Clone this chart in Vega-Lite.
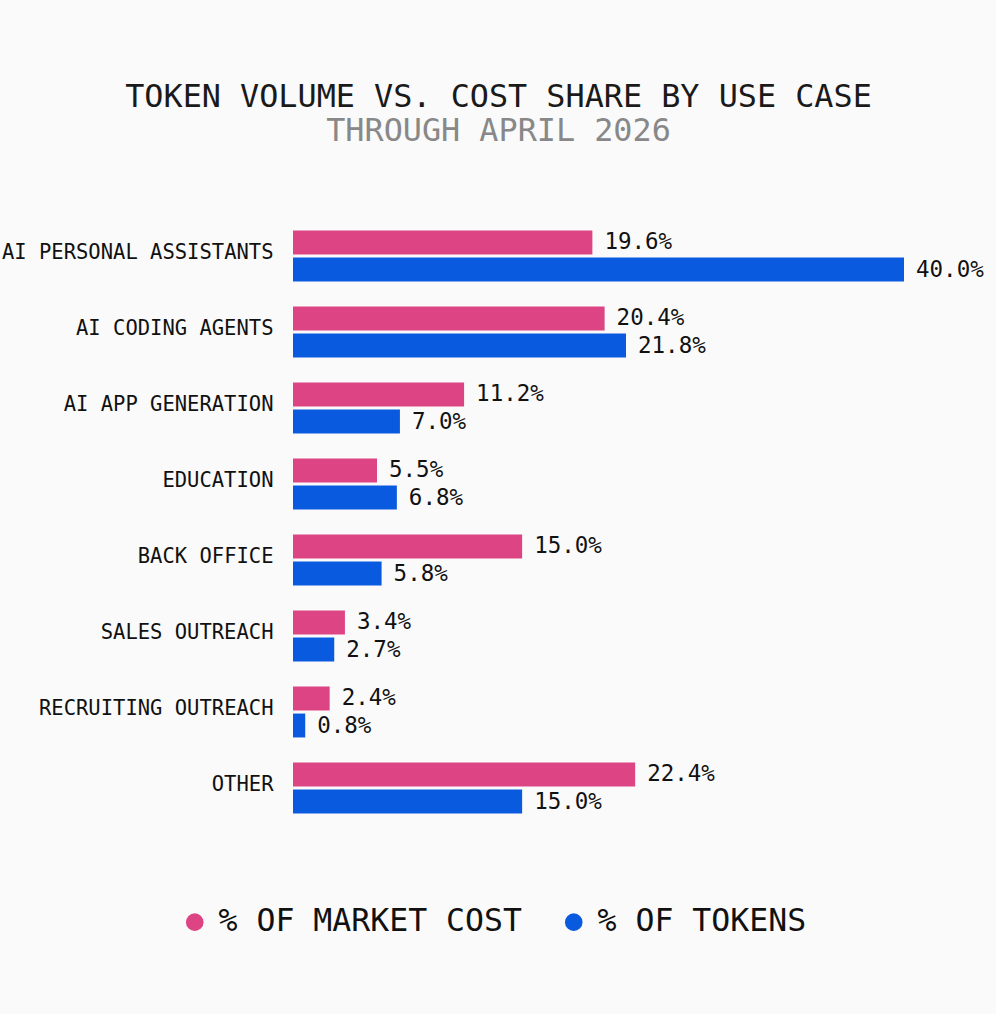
{
  "$schema": "https://vega.github.io/schema/vega-lite/v6.json",
  "autosize": {"type": "none"},
  "width": 611,
  "height": 608,
  "padding": {"left": 293, "top": 218, "right": 92, "bottom": 188},
  "background": "#fafafa",
  "title": {
    "text": "TOKEN VOLUME VS. COST SHARE BY USE CASE",
    "subtitle": "THROUGH APRIL 2026",
    "anchor": "middle",
    "dx": -100,
    "offset": 70,
    "font": "DejaVu Sans Mono",
    "fontSize": 31.8,
    "fontWeight": "normal",
    "color": "#1a1a1a",
    "subtitleFont": "DejaVu Sans Mono",
    "subtitleFontSize": 31.8,
    "subtitleColor": "#888888",
    "subtitlePadding": 2
  },
  "data": {
    "values": [
      {"use_case": "AI PERSONAL ASSISTANTS", "series": "% OF MARKET COST", "share": 0.196},
      {"use_case": "AI PERSONAL ASSISTANTS", "series": "% OF TOKENS", "share": 0.400},
      {"use_case": "AI CODING AGENTS", "series": "% OF MARKET COST", "share": 0.204},
      {"use_case": "AI CODING AGENTS", "series": "% OF TOKENS", "share": 0.218},
      {"use_case": "AI APP GENERATION", "series": "% OF MARKET COST", "share": 0.112},
      {"use_case": "AI APP GENERATION", "series": "% OF TOKENS", "share": 0.070},
      {"use_case": "EDUCATION", "series": "% OF MARKET COST", "share": 0.055},
      {"use_case": "EDUCATION", "series": "% OF TOKENS", "share": 0.068},
      {"use_case": "BACK OFFICE", "series": "% OF MARKET COST", "share": 0.150},
      {"use_case": "BACK OFFICE", "series": "% OF TOKENS", "share": 0.058},
      {"use_case": "SALES OUTREACH", "series": "% OF MARKET COST", "share": 0.034},
      {"use_case": "SALES OUTREACH", "series": "% OF TOKENS", "share": 0.027},
      {"use_case": "RECRUITING OUTREACH", "series": "% OF MARKET COST", "share": 0.024},
      {"use_case": "RECRUITING OUTREACH", "series": "% OF TOKENS", "share": 0.008},
      {"use_case": "OTHER", "series": "% OF MARKET COST", "share": 0.224},
      {"use_case": "OTHER", "series": "% OF TOKENS", "share": 0.150}
    ]
  },
  "encoding": {
    "y": {
      "field": "use_case",
      "type": "nominal",
      "sort": null,
      "scale": {"paddingInner": 0.33, "paddingOuter": 0.165},
      "axis": {
        "title": null,
        "domain": false,
        "ticks": false,
        "labelPadding": 20,
        "labelOffset": -3,
        "labelFont": "DejaVu Sans Mono",
        "labelFontSize": 20.5,
        "labelColor": "#111111",
        "labelLimit": 400
      }
    },
    "yOffset": {
      "field": "series",
      "type": "nominal",
      "sort": ["% OF MARKET COST", "% OF TOKENS"],
      "scale": {"paddingInner": 0.115}
    },
    "x": {
      "field": "share",
      "type": "quantitative",
      "scale": {"domain": [0, 0.4], "nice": false},
      "axis": null
    }
  },
  "layer": [
    {
      "mark": {"type": "bar"},
      "encoding": {
        "color": {
          "field": "series",
          "type": "nominal",
          "scale": {
            "domain": ["% OF MARKET COST", "% OF TOKENS"],
            "range": ["#dd4484", "#0a5adf"]
          },
          "legend": {
            "orient": "none",
            "direction": "horizontal",
            "legendX": -114,
            "legendY": 688,
            "title": null,
            "symbolType": "circle",
            "symbolSize": 310,
            "symbolStrokeWidth": 0,
            "labelFont": "DejaVu Sans Mono",
            "labelFontSize": 31.5,
            "labelColor": "#111111",
            "labelOffset": 8,
            "labelLimit": 400,
            "columnPadding": 36
          }
        }
      }
    },
    {
      "mark": {
        "type": "text",
        "align": "left",
        "baseline": "middle",
        "dx": 12,
        "font": "DejaVu Sans Mono",
        "fontSize": 22.5,
        "color": "#111111"
      },
      "encoding": {
        "text": {"field": "share", "type": "quantitative", "format": ".1%"}
      }
    }
  ],
  "config": {
    "view": {"stroke": null}
  }
}
